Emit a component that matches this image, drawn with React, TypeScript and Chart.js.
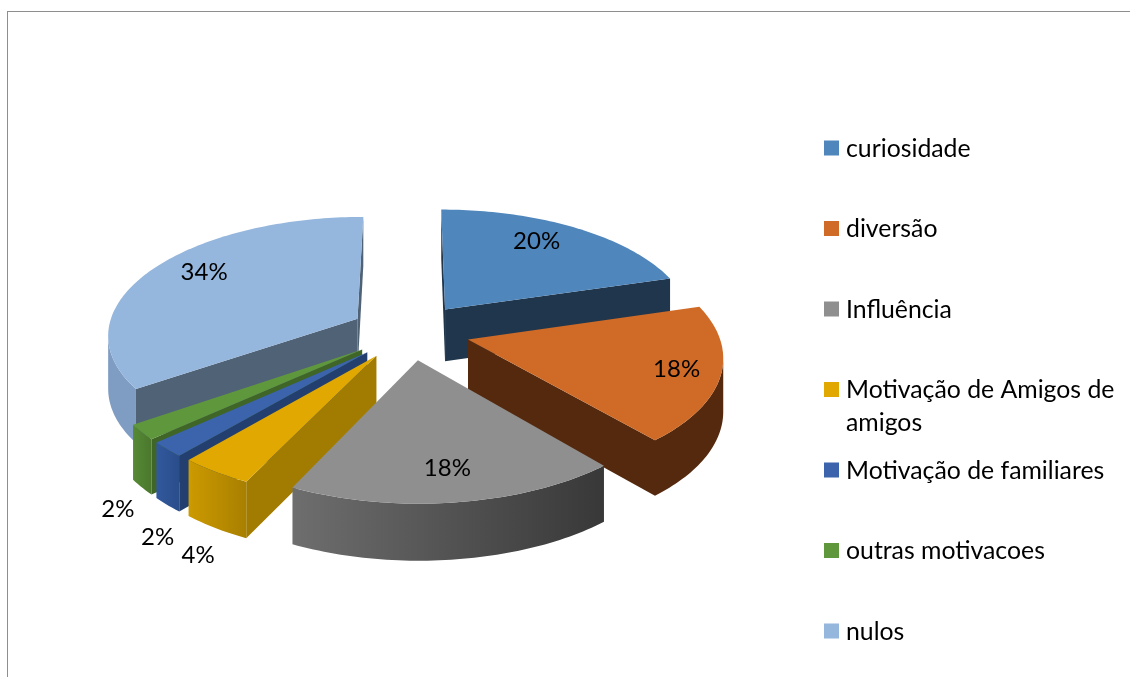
import React, { useEffect, useRef } from "react";
import { Chart, registerables } from "chart.js";

Chart.register(...registerables);

// Survey answers, in percent
const categories = [
  "curiosidade",
  "diversão",
  "Influência",
  "Motivação de Amigos de amigos",
  "Motivação de familiares",
  "outras motivacoes",
  "nulos",
];
const shares = [20, 18, 18, 4, 2, 2, 34];

// Slice paint: top face, radial wall, and the outer rim from its left to its right end
const topColors = ["#4f86bc", "#cf6b27", "#8f8f8f", "#e0a800", "#3b64ad", "#5f983c", "#95b6dd"];
const wallColors = ["#20364c", "#54290e", "#3a3a3a", "#a27c00", "#223f6f", "#3f6527", "#506276"];
const rimLeftColors = ["#3a6a99", "#54290e", "#6e6e6e", "#cc9a00", "#32599e", "#568a35", "#7f9cc2"];
const rimRightColors = ["#3a6a99", "#54290e", "#383838", "#a87f00", "#2a4d8a", "#4a772d", "#7f9cc2"];

// Percent labels: distance along the slice radius, turn away from its middle, and
// whether the label hangs below the slice's lower edge
const labelReach = [0.79, 0.83, 0.78, 1.16, 1.156, 1.14, 0.8];
const labelTurn = [-0.084, 0, 0, -0.044, -0.113, -0.059, 0.103];
const labelLowered = [false, false, false, true, true, true, false];

const FONT = "Lato, Carlito, sans-serif";
const EXPLODE = 60;
const THICKNESS = 52.5;
const CAMERA = 2000;
const TILT = 0.47;

const makeProjector = (cx: number, cy: number) => (mx: number, my: number, down: number) => {
  const s = CAMERA / (CAMERA - my);
  return { x: cx + mx * s, y: cy + my * TILT * s + down * Math.sqrt(s) };
};

type Pt = { x: number; y: number };

const area = (pts: Pt[]) => {
  let sum = 0;
  pts.forEach((p, i) => {
    const q = pts[(i + 1) % pts.length];
    sum += p.x * q.y - q.x * p.y;
  });
  return sum / 2;
};

const fillPoly = (ctx: CanvasRenderingContext2D, pts: Pt[], fill: any) => {
  ctx.beginPath();
  pts.forEach((p, i) => (i ? ctx.lineTo(p.x, p.y) : ctx.moveTo(p.x, p.y)));
  ctx.closePath();
  ctx.fillStyle = fill;
  ctx.fill();
};

// Renders the pie's arc elements as tilted, exploded solids
const solidPie = {
  id: "solidPie",
  beforeDatasetDraw(chart: any, args: any) {
    const ctx: CanvasRenderingContext2D = chart.ctx;
    const arcs = args.meta.data;
    const first = arcs[0];
    const project = makeProjector(first.x, first.y);

    const solids = arcs.map((arc: any, index: number) => {
      const { startAngle, endAngle, outerRadius } = arc;
      const mid = (startAngle + endAngle) / 2;
      const ox = Math.cos(mid) * arc.options.offset;
      const oy = Math.sin(mid) * arc.options.offset;
      const steps = Math.max(6, Math.ceil((endAngle - startAngle) / 0.02));
      const rim: { mx: number; my: number }[] = [];
      for (let i = 0; i <= steps; i++) {
        const a = startAngle + ((endAngle - startAngle) * i) / steps;
        rim.push({ mx: ox + Math.cos(a) * outerRadius, my: oy + Math.sin(a) * outerRadius });
      }
      const depth = oy + (Math.sin(mid) * outerRadius * 2) / 3;
      return { index, ox, oy, rim, depth };
    });

    solids.sort((a: any, b: any) => a.depth - b.depth);

    solids.forEach(({ index, ox, oy, rim }: any) => {
      const top = rim.map((p: any) => project(p.mx, p.my, 0));
      const low = rim.map((p: any) => project(p.mx, p.my, THICKNESS));
      const apexTop = project(ox, oy, 0);
      const apexLow = project(ox, oy, THICKNESS);
      const lastTop = top[top.length - 1];
      const lastLow = low[low.length - 1];

      // Radial walls, kept only when they face the viewer
      const startWall = [apexTop, top[0], low[0], apexLow];
      const endWall = [lastTop, apexTop, apexLow, lastLow];
      [startWall, endWall].forEach((wall) => {
        if (area(wall) < 0) {
          fillPoly(ctx, wall, wallColors[index]);
        }
      });

      // Outer rim, only the stretch that faces the viewer
      const seen: number[] = [];
      for (let i = 0; i < top.length - 1; i++) {
        if (area([top[i], top[i + 1], low[i + 1], low[i]]) < 0) {
          seen.push(i, i + 1);
        }
      }
      if (seen.length) {
        const from = Math.min(...seen);
        const to = Math.max(...seen);
        const upper = top.slice(from, to + 1);
        const lower = low.slice(from, to + 1).reverse();
        const xs = upper.map((p: Pt) => p.x);
        const left = Math.min(...xs);
        const right = Math.max(...xs);
        const shade = ctx.createLinearGradient(left, 0, Math.max(right, left + 1), 0);
        shade.addColorStop(0, rimLeftColors[index]);
        shade.addColorStop(1, rimRightColors[index]);
        fillPoly(ctx, [...upper, ...lower], shade);
      }

      fillPoly(ctx, [apexTop, ...top], topColors[index]);
    });

    ctx.save();
    ctx.fillStyle = "#000000";
    ctx.font = `24px ${FONT}`;
    ctx.textAlign = "center";
    ctx.textBaseline = "middle";
    arcs.forEach((arc: any, i: number) => {
      const mid = (arc.startAngle + arc.endAngle) / 2;
      const ox = Math.cos(mid) * arc.options.offset;
      const oy = Math.sin(mid) * arc.options.offset;
      const turned = mid + labelTurn[i];
      const reach = arc.outerRadius * labelReach[i];
      const at = project(
        ox + Math.cos(turned) * reach,
        oy + Math.sin(turned) * reach,
        labelLowered[i] ? THICKNESS : 0,
      );
      ctx.fillText(`${shares[i]}%`, at.x, at.y + 1);
    });
    ctx.restore();

    return false;
  },
};

// Outer frame of the chart and the evenly spaced legend on its right
const frameAndKey = {
  id: "frameAndKey",
  beforeDraw(chart: any) {
    const ctx: CanvasRenderingContext2D = chart.ctx;
    ctx.save();
    ctx.fillStyle = "#8e8e8e";
    ctx.fillRect(7, 11, chart.width - 7, 1);
    ctx.fillRect(7, 11, 1, chart.height - 11);
    ctx.restore();
  },
  afterDraw(chart: any) {
    const ctx: CanvasRenderingContext2D = chart.ctx;
    const boxLeft = 824;
    const boxSize = 15;
    const textLeft = 846;
    const firstRow = 148;
    const rowGap = 80.5;
    const lineGap = 33;
    const maxWidth = chart.width - textLeft - 8;
    ctx.save();
    ctx.font = `24.8px ${FONT}`;
    ctx.textBaseline = "middle";
    ctx.textAlign = "left";
    categories.forEach((name, i) => {
      const y = firstRow + rowGap * i;
      ctx.fillStyle = topColors[i];
      ctx.fillRect(boxLeft, y - boxSize / 2, boxSize, boxSize);
      ctx.fillStyle = "#000000";
      const lines: string[] = [];
      let line = "";
      name.split(" ").forEach((word) => {
        const next = line ? `${line} ${word}` : word;
        if (line && ctx.measureText(next).width > maxWidth) {
          lines.push(line);
          line = word;
        } else {
          line = next;
        }
      });
      lines.push(line);
      lines.forEach((text, n) => ctx.fillText(text, textLeft, y + 1 + n * lineGap));
    });
    ctx.restore();
  },
};

export default function App() {
  const canvasRef = useRef<HTMLCanvasElement>(null);

  useEffect(() => {
    const chart = new Chart(canvasRef.current as HTMLCanvasElement, {
      type: "pie",
      data: {
        labels: categories,
        datasets: [
          {
            data: shares,
            backgroundColor: topColors,
            borderWidth: 0,
            offset: EXPLODE,
          },
        ],
      },
      options: {
        responsive: false,
        animation: false,
        layout: { padding: { left: 0, right: 310, top: 51.5, bottom: 65.5 } },
        plugins: {
          legend: { display: false },
          tooltip: { enabled: false },
        },
      },
      plugins: [solidPie, frameAndKey],
    } as any);
    return () => chart.destroy();
  }, []);

  return (
    <div style={{ position: "absolute", left: 0, top: 0, width: 1130, height: 677, background: "#ffffff" }}>
      <canvas ref={canvasRef} width={1130} height={677} style={{ display: "block" }} />
    </div>
  );
}
